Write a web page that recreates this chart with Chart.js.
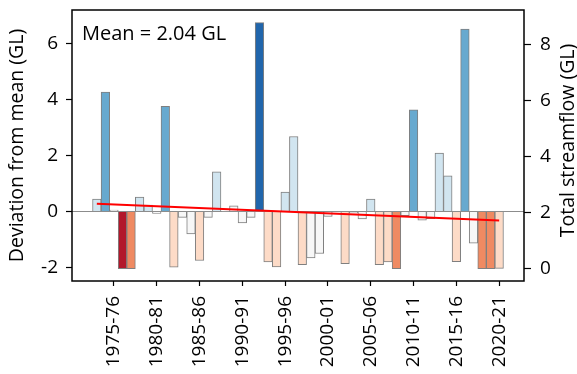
<!DOCTYPE html>
<html>
<head>
<meta charset="utf-8">
<script src="https://cdn.jsdelivr.net/npm/chart.js@4/dist/chart.umd.min.js"></script>
<style>
  html, body { margin: 0; padding: 0; background: #fff; }
  #wrap { width: 577px; height: 374px; }
</style>
</head>
<body>
<div id="wrap"><canvas id="c" width="577" height="374"></canvas></div>
<script>
// ---- data ----
const seasons = [
  '1973-74','1974-75','1975-76','1976-77','1977-78','1978-79','1979-80','1980-81','1981-82','1982-83',
  '1983-84','1984-85','1985-86','1986-87','1987-88','1988-89','1989-90','1990-91','1991-92','1992-93',
  '1993-94','1994-95','1995-96','1996-97','1997-98','1998-99','1999-00','2000-01','2001-02','2002-03',
  '2003-04','2004-05','2005-06','2006-07','2007-08','2008-09','2009-10','2010-11','2011-12','2012-13',
  '2013-14','2014-15','2015-16','2016-17','2017-18','2018-19','2019-20','2020-21'
];
// deviation from mean (GL)
const deviation = [
  0.44, 4.25, 0.05, -2.04, -2.04, 0.51, 0.23, -0.07, 3.75, -1.99,
  -0.21, -0.80, -1.75, -0.21, 1.41, 0.01, 0.20, -0.41, -0.21, 6.73,
  -1.80, -1.98, 0.69, 2.67, -1.90, -1.66, -1.50, -0.18, -0.02, -1.86,
  -0.05, -0.27, 0.44, -1.90, -1.80, -2.04, -0.15, 3.62, -0.31, -0.26,
  2.08, 1.27, -1.79, 6.50, -1.13, -2.04, -2.04, -2.03
];
// flow class (0 = very much below ... 6 = very much above)
const flowClass = [
  4, 5, 3, 0, 1, 4, 4, 3, 5, 2,
  3, 3, 2, 3, 4, 3, 3, 3, 3, 6,
  2, 2, 4, 4, 2, 3, 3, 3, 3, 2,
  3, 3, 4, 2, 2, 1, 3, 5, 3, 3,
  4, 4, 2, 5, 3, 1, 1, 2
];
const meanFlow = 2.04;               // GL
const trendStart = 0.27;             // trend value at first season
const trendEnd = -0.32;              // trend value at last season
const xTickYears = [1975, 1980, 1985, 1990, 1995, 2000, 2005, 2010, 2015, 2020];
const xTickLabels = ['1975-76','1980-81','1985-86','1990-91','1995-96','2000-01','2005-06','2010-11','2015-16','2020-21'];
const leftTicks = [-2, 0, 2, 4, 6];
const rightTicks = [0, 2, 4, 6, 8];

// ---- styles ----
const palette = ['#b2182b', '#ef8a62', '#fddbc7', '#f7f7f7', '#d1e5f0', '#67a9cf', '#2166ac'];
const FONT = '"Open Sans", "Noto Sans", sans-serif';
const FS = 19;
const yMin = -2.48, yMax = 7.18;

const startYears = seasons.map(s => parseInt(s.slice(0, 4), 10));
const barData = startYears.map((yr, i) => ({ x: yr, y: deviation[i] }));
const trendData = [
  { x: startYears[0], y: trendStart },
  { x: startYears[startYears.length - 1], y: trendEnd }
];

function noPad(s) { s.paddingTop = 0; s.paddingBottom = 0; s.paddingLeft = 0; s.paddingRight = 0; }

const framePlugin = {
  id: 'frame',
  afterDatasetsDraw(chart) {
    const { ctx, chartArea: a } = chart;
    ctx.save();
    ctx.strokeStyle = '#000';
    ctx.lineWidth = 1.5;
    ctx.strokeRect(a.left, a.top, a.right - a.left, a.bottom - a.top);
    ctx.restore();
  },
  afterDraw(chart) {
    const { ctx, chartArea: a } = chart;
    ctx.save();
    ctx.fillStyle = '#000';
    ctx.font = '20px ' + FONT;
    ctx.textAlign = 'left';
    ctx.textBaseline = 'alphabetic';
    ctx.fillText('Mean = ' + meanFlow.toFixed(2) + ' GL', a.left + 10, a.top + 29.5);
    // right axis title, reading bottom-to-top
    ctx.font = '19.5px ' + FONT;
    ctx.translate(568, (a.top + a.bottom) / 2 - 5);
    ctx.rotate(-Math.PI / 2);
    ctx.textAlign = 'center';
    ctx.textBaseline = 'middle';
    ctx.fillText('Total streamflow (GL)', 0, 0);
    ctx.restore();
  }
};

function draw() {
  new Chart(document.getElementById('c'), {
    data: {
      datasets: [
        {
          type: 'line',
          data: trendData,
          borderColor: '#ff0000',
          borderWidth: 2,
          pointRadius: 0,
          fill: false,
          xAxisID: 'x',
          yAxisID: 'y',
          order: 0
        },
        {
          type: 'bar',
          data: barData,
          backgroundColor: flowClass.map(c => palette[c]),
          borderColor: '#7f7f7f',
          borderWidth: 1,
          barPercentage: 1,
          categoryPercentage: 1,
          xAxisID: 'x',
          yAxisID: 'y',
          order: 1
        }
      ]
    },
    options: {
      responsive: false,
      animation: false,
      devicePixelRatio: 1,
      layout: { padding: { top: 10, left: 0, right: 0, bottom: 0 } },
      plugins: { legend: { display: false }, tooltip: { enabled: false } },
      scales: {
        x: {
          type: 'linear',
          position: 'bottom',
          offset: false,
          min: 1970.1,
          max: 2022.9,
          afterBuildTicks: s => { s.ticks = xTickYears.map(v => ({ value: v })); },
          afterFit: s => { s.height = 93; noPad(s); },
          grid: { display: true, offset: false, drawOnChartArea: false, tickLength: 5, tickColor: '#000', tickWidth: 1.2 },
          border: { display: false },
          ticks: {
            autoSkip: false,
            maxRotation: 90,
            minRotation: 90,
            padding: 10,
            color: '#000',
            font: { family: FONT, size: FS },
            callback: v => { const i = xTickYears.indexOf(v); return i >= 0 ? xTickLabels[i] : ''; }
          }
        },
        y: {
          type: 'linear',
          position: 'left',
          min: yMin,
          max: yMax,
          afterBuildTicks: s => { s.ticks = leftTicks.map(v => ({ value: v })); },
          afterFit: s => { s.width = 72; noPad(s); },
          grid: {
            display: true,
            drawOnChartArea: true,
            tickLength: 6,
            tickColor: '#000',
            tickWidth: 1.2,
            color: c => (c.tick && c.tick.value === 0) ? '#8c8c8c' : 'rgba(0,0,0,0)',
            lineWidth: 1
          },
          border: { display: false },
          ticks: { padding: 8, color: '#000', font: { family: FONT, size: FS } },
          title: {
            display: true,
            text: 'Deviation from mean (GL)',
            color: '#000',
            font: { family: FONT, size: 19.5 },
            padding: { top: 6, bottom: 0 }
          }
        },
        y2: {
          type: 'linear',
          position: 'right',
          min: yMin + meanFlow,
          max: yMax + meanFlow,
          afterBuildTicks: s => { s.ticks = rightTicks.map(v => ({ value: v })); },
          afterFit: s => { s.width = 53; noPad(s); },
          grid: { display: true, drawOnChartArea: false, tickLength: 7, tickColor: '#000', tickWidth: 1.2 },
          border: { display: false },
          ticks: { padding: 9, color: '#000', font: { family: FONT, size: FS } }
        }
      }
    },
    plugins: [framePlugin]
  });
}

const fontLoads = document.fonts && document.fonts.load
  ? Promise.all([document.fonts.load('19px "Open Sans"'), document.fonts.load('19px "Noto Sans"')]).catch(() => null)
  : Promise.resolve();
fontLoads.then(draw, draw);
</script>
</body>
</html>
